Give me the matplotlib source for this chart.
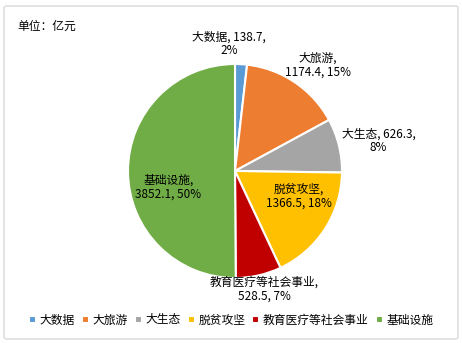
import numpy as np
import matplotlib.pyplot as plt
from matplotlib.patches import FancyBboxPatch

plt.rcParams['font.family'] = ['Noto Sans CJK SC', 'DejaVu Sans']

categories = ['大数据', '大旅游', '大生态', '脱贫攻坚', '教育医疗等社会事业', '基础设施']
values = [138.7, 1174.4, 626.3, 1366.5, 528.5, 3852.1]
colors = ['#5B9BD5', '#ED7D31', '#A5A5A5', '#FFC000', '#C00000', '#70AD47']

# label placement: radial distance and angle nudge (deg), and line split
label_r = [1.19, 1.26, 1.37, 0.64, 1.14, 0.64]
label_dang = [6, -4, -2, 11, 1, 13]
label_fmt = ['{n}, {v},\n{p}%', '{n},\n{v}, {p}%', '{n}, {v},\n{p}%',
             '{n},\n{v}, {p}%', '{n},\n{v}, {p}%', '{n},\n{v}, {p}%']


def main():
    fig = plt.figure(figsize=(4.62, 3.43), dpi=100)
    fig.patches.append(FancyBboxPatch((4 / 462, 4 / 343), 454 / 462, 333 / 343,
                                      boxstyle='round,pad=0,rounding_size=0.006',
                                      transform=fig.transFigure, fc='none',
                                      ec='#D9D9D9', lw=1.0, zorder=-1))

    ax = fig.add_axes([74.5 / 462, 11.5 / 343, 321 / 462, 321 / 343])
    wedges, _ = ax.pie(values, colors=colors, startangle=90, counterclock=False,
                       radius=1.0, wedgeprops=dict(edgecolor='white', linewidth=1.5))
    ax.set_xlim(-1.5, 1.5)
    ax.set_ylim(-1.5, 1.5)
    ax.set_aspect('equal')
    ax.axis('off')

    total = sum(values)
    for i, w in enumerate(wedges):
        mid = np.deg2rad((w.theta1 + w.theta2) / 2 + label_dang[i])
        x = label_r[i] * np.cos(mid)
        y = label_r[i] * np.sin(mid)
        txt = label_fmt[i].format(n=categories[i], v=values[i],
                                  p=int(round(values[i] / total * 100)))
        ax.text(x, y, txt, ha='center', va='center', fontsize=8.5,
                color='black', linespacing=1.1)

    fig.text(17 / 462, 1 - 26 / 343, '单位：亿元', fontsize=8.5, va='center', ha='left')

    fig.legend(wedges, categories, loc='center', bbox_to_anchor=(231 / 462, 1 - 320 / 343),
               ncol=6, frameon=False, fontsize=8.5, handlelength=0.6, handleheight=0.6,
               handletextpad=0.3, columnspacing=0.6, borderaxespad=0)

    fig.savefig('out.png', dpi=100)


if __name__ == "__main__":
    main()
